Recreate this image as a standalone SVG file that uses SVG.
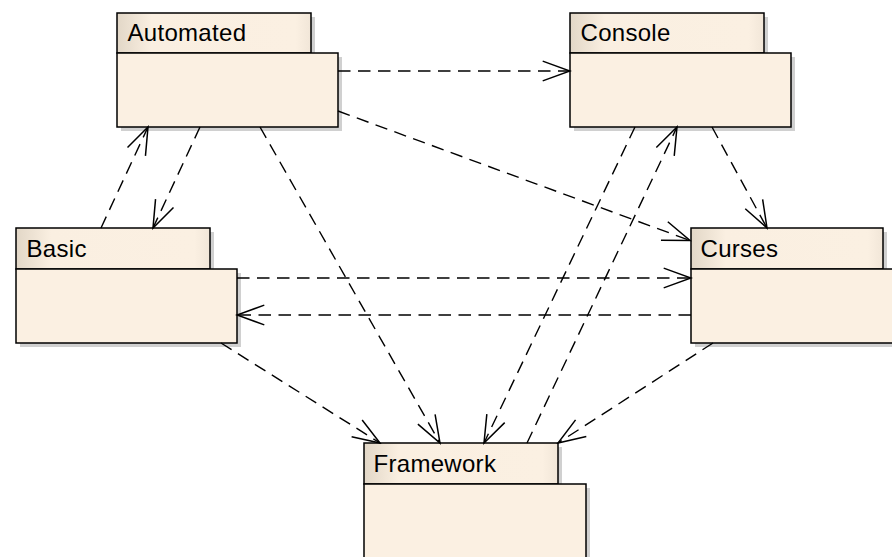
<svg xmlns="http://www.w3.org/2000/svg" width="892" height="557" viewBox="0 0 892 557">
<style>
.shadow{fill:#c4c4c4;opacity:0.8}
.tab{fill:url(#tabGrad);stroke:#000;stroke-width:1.5}
.body{fill:#fbf0e2;stroke:#000;stroke-width:1.5}
.label{font-family:"Liberation Sans",Arial,sans-serif;font-size:24px;letter-spacing:0.3px;fill:#000}
.conn line{stroke:#000;stroke-width:1.4;stroke-dasharray:12.5 7.5;fill:none;marker-end:url(#arrow)}
</style>
<defs>
<linearGradient id="tabGrad" x1="0" y1="0" x2="1" y2="0">
<stop offset="0" stop-color="#e2d7c7"/>
<stop offset="0.18" stop-color="#faefe1"/>
<stop offset="0.92" stop-color="#fbf0e2"/>
<stop offset="1" stop-color="#f1e6d8"/>
</linearGradient>
<marker id="arrow" viewBox="-30 -12 32 24" refX="0" refY="0" markerWidth="32" markerHeight="24" orient="auto" markerUnits="userSpaceOnUse">
<path d="M-27.3,-9.9 L0,0 L-27.3,9.9" fill="none" stroke="#000" stroke-width="1.5" stroke-dasharray="none"/>
</marker>
</defs>
<rect width="892" height="557" fill="#fff"/>

<g id="Automated">
<rect class="shadow" x="121" y="17" width="194" height="40"/>
<rect class="shadow" x="121" y="57" width="221" height="74"/>
<rect class="tab" x="117" y="13" width="194" height="40"/>
<rect class="body" x="117" y="53" width="221" height="74"/>
<text class="label" x="127.5" y="41">Automated</text>
</g>

<g id="Console">
<rect class="shadow" x="574" y="17" width="194" height="40"/>
<rect class="shadow" x="574" y="57" width="221" height="74"/>
<rect class="tab" x="570" y="13" width="194" height="40"/>
<rect class="body" x="570" y="53" width="221" height="74"/>
<text class="label" x="580.5" y="41">Console</text>
</g>

<g id="Basic">
<rect class="shadow" x="20" y="232" width="194" height="41"/>
<rect class="shadow" x="20" y="273" width="221" height="74"/>
<rect class="tab" x="16" y="228" width="194" height="41"/>
<rect class="body" x="16" y="269" width="221" height="74"/>
<text class="label" x="26.5" y="256.5">Basic</text>
</g>

<g id="Curses">
<rect class="shadow" x="695" y="232" width="192" height="41"/>
<rect class="shadow" x="695" y="273" width="221" height="74"/>
<rect class="tab" x="691" y="228" width="192" height="41"/>
<rect class="body" x="691" y="269" width="221" height="74"/>
<text class="label" x="700.5" y="257">Curses</text>
</g>

<g id="Framework">
<rect class="shadow" x="368" y="447" width="194" height="41"/>
<rect class="shadow" x="368" y="488" width="222" height="80"/>
<rect class="tab" x="364" y="443" width="194" height="41"/>
<rect class="body" x="364" y="484" width="222" height="80"/>
<text class="label" x="373.5" y="472">Framework</text>
</g>

<g id="connectors" class="conn">
<line x1="338" y1="71" x2="570" y2="71"/>
<line x1="338" y1="111" x2="690" y2="240.5"/>
<line x1="200" y1="127" x2="153" y2="228"/>
<line x1="101" y1="228" x2="148" y2="127"/>
<line x1="260" y1="127" x2="440" y2="443"/>
<line x1="712" y1="127" x2="767" y2="228"/>
<line x1="635" y1="127" x2="484" y2="443"/>
<line x1="527" y1="443" x2="677" y2="127"/>
<line x1="237" y1="278" x2="691" y2="278"/>
<line x1="691" y1="315" x2="237" y2="315"/>
<line x1="221" y1="343" x2="380" y2="443"/>
<line x1="713" y1="343" x2="558" y2="443"/>
</g>
</svg>
